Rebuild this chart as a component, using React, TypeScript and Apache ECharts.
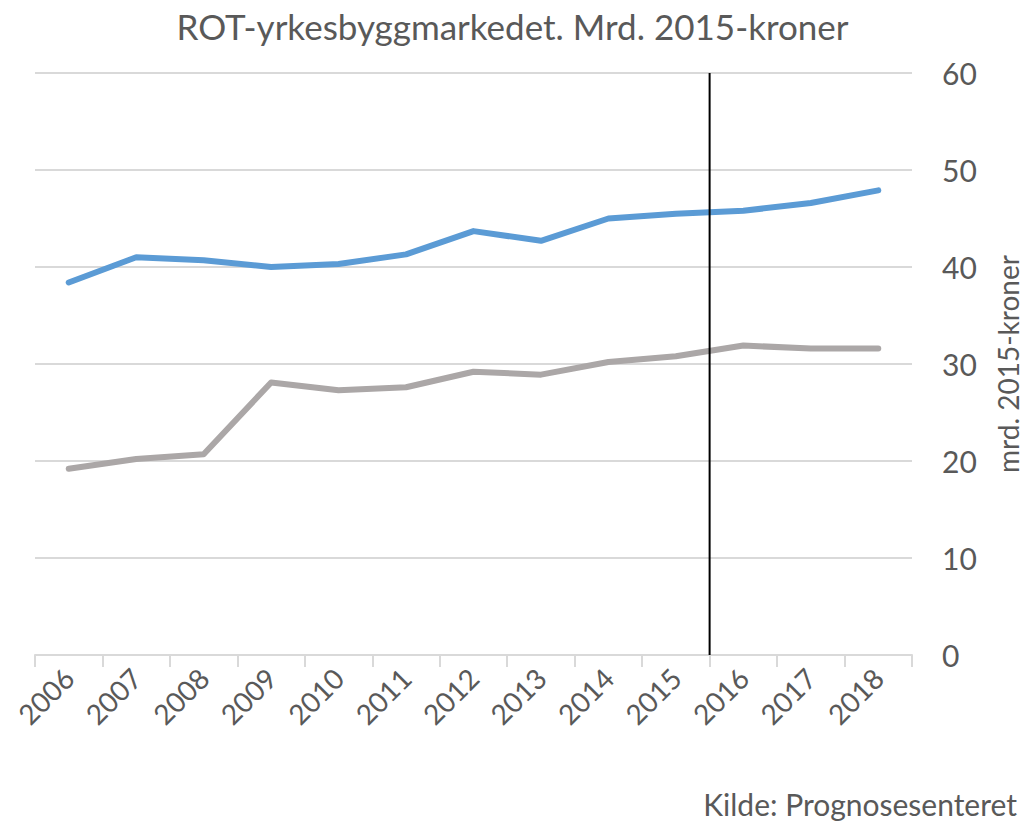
import React, { useEffect, useRef } from "react";
import * as echarts from "echarts";

const years = ["2006","2007","2008","2009","2010","2011","2012","2013","2014","2015","2016","2017","2018"];
const blueSeries = [38.4, 41.0, 40.7, 40.0, 40.3, 41.3, 43.7, 42.7, 45.0, 45.5, 45.8, 46.6, 47.9];
const graySeries = [19.2, 20.2, 20.7, 28.1, 27.3, 27.6, 29.2, 28.9, 30.2, 30.8, 31.9, 31.6, 31.6];
const dividerX = 10; // boundary between 2015 and 2016 (category index space)
const yTicks = { min: 0, max: 60, interval: 10 };

const FONT = "Lato, 'Open Sans', sans-serif";
const TXT = "#595959";

export default function App() {
  const ref = useRef<HTMLDivElement>(null);
  useEffect(() => {
    if (!ref.current) return;
    const chart = echarts.init(ref.current, undefined, { renderer: "svg" });
    chart.setOption({
      animation: false,
      textStyle: { fontFamily: FONT },
      title: {
        text: "ROT-yrkesbyggmarkedet. Mrd. 2015-kroner",
        left: "center",
        top: 3,
        textStyle: { fontFamily: FONT, fontSize: 35, fontWeight: "normal", color: TXT },
      },
      grid: { left: 35, right: 113, top: 73, bottom: 173, containLabel: false, outerBoundsMode: "none" },
      xAxis: [
        {
          type: "category",
          data: years,
          boundaryGap: true,
          axisLine: { show: true, lineStyle: { color: "#D9D9D9", width: 2 } },
          axisTick: { show: true, length: 12, lineStyle: { color: "#D9D9D9", width: 2 } },
          axisLabel: { rotate: 45, fontSize: 28, color: TXT, fontFamily: FONT, margin: 18 },
        },
        {
          type: "value",
          min: 0,
          max: 13,
          show: false,
        },
      ],
      yAxis: {
        type: "value",
        position: "right",
        min: yTicks.min,
        max: yTicks.max,
        interval: yTicks.interval,
        axisLine: { show: false },
        axisTick: { show: false },
        splitLine: { lineStyle: { color: "#D9D9D9", width: 2 } },
        axisLabel: { fontSize: 30, color: TXT, fontFamily: FONT, margin: 30 },
        name: "mrd. 2015-kroner",
        nameLocation: "middle",
        nameRotate: 90,
        nameGap: 82,
        nameTextStyle: { fontSize: 28, lineHeight: 28, color: TXT, fontFamily: FONT },
      },
      series: [
        {
          type: "line",
          data: blueSeries,
          symbol: "none",
          lineStyle: { color: "#5B9BD5", width: 6, cap: "round", join: "round" },
          z: 3,
        },
        {
          type: "line",
          data: graySeries,
          symbol: "none",
          lineStyle: { color: "#ABA7A7", width: 6, cap: "round", join: "round" },
          z: 3,
        },
        {
          type: "line",
          xAxisIndex: 1,
          data: [[dividerX, yTicks.min], [dividerX, yTicks.max]],
          symbol: "none",
          lineStyle: { color: "#000000", width: 2 },
          z: 4,
        },
      ],
      graphic: [
        {
          type: "text",
          right: 8,
          top: 789,
          style: { text: "Kilde: Prognosesenteret", fontSize: 30, fill: TXT, fontFamily: FONT },
        },
      ],
    });
    return () => chart.dispose();
  }, []);
  return <div ref={ref} style={{ width: 1025, height: 828, position: "absolute", left: 0, top: 0 }} />;
}
